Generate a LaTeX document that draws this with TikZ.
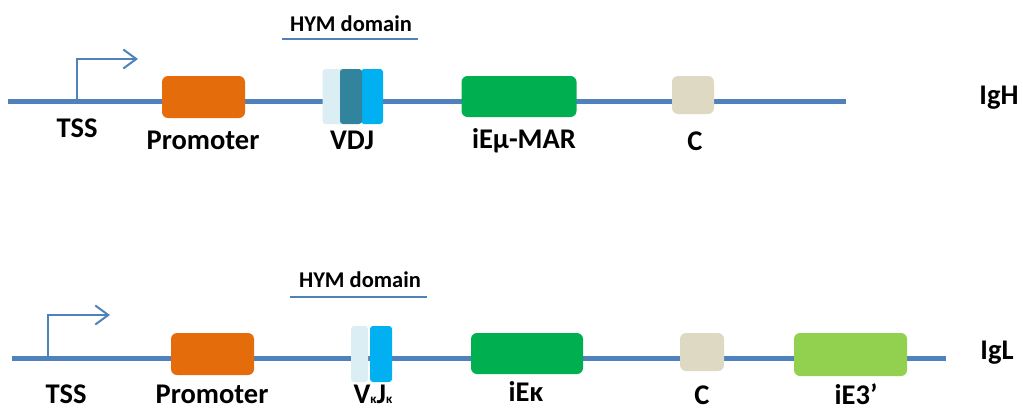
\documentclass[tikz,border=0pt]{standalone}
\usepackage{fontspec}
\setmainfont{Carlito}
\usetikzlibrary{arrows.meta}
\definecolor{dnablue}{HTML}{4F81BD}
\definecolor{promo}{HTML}{E46C0A}
\definecolor{enhgreen}{HTML}{00B050}
\definecolor{litegreen}{HTML}{92D050}
\definecolor{cbox}{HTML}{DDD9C3}
\definecolor{vlight}{HTML}{DAEEF3}
\definecolor{vteal}{HTML}{31849B}
\definecolor{vblue}{HTML}{00B0F0}
\newcommand\kapsub{{\fontsize{13}{14}\selectfont κ}}
\begin{document}
\begin{tikzpicture}[x=1pt,y=-1pt,
  dna/.style={draw=dnablue,line width=5pt},
  tss/.style={draw=dnablue,line width=2pt,-{Straight Barb[length=13pt,width=19pt,line width=2pt]}},
  elem/.style={rounded corners=6pt,inner sep=0,draw=none},
  lbl/.style={font=\fontsize{28.5}{32}\selectfont\bfseries,inner sep=0,anchor=base},
  hym/.style={font=\fontsize{22.5}{26}\selectfont\bfseries,inner sep=0,anchor=base},
  uline/.style={draw=dnablue,line width=2pt}]
\useasboundingbox (0,0) rectangle (1023,410);

% ---------- IgH ----------
\coordinate (hL) at (8,101);
\coordinate (hR) at (846,101);
\draw[dna] (hL) -- (hR);
\coordinate (hT) at (77,101);
\coordinate (hA) at (138,59);
\draw[tss] (hT) |- (hA);

\node[elem,fill=promo,minimum width=83pt,minimum height=42pt] (hP) at (203.5,97) {};
\node[elem,fill=vlight,minimum width=21pt,minimum height=55pt,rounded corners=3pt] (hV) at (333,96.5) {};
\node[elem,fill=vblue,minimum width=22pt,minimum height=55pt,rounded corners=3pt] (hJ) at (372,96.5) {};
\node[elem,fill=vteal,minimum width=22pt,minimum height=55pt,rounded corners=3pt] (hD) at (351,96.5) {};
\node[elem,fill=enhgreen,minimum width=115pt,minimum height=41pt] (hE) at (519,96.5) {};
\node[elem,fill=cbox,minimum width=42pt,minimum height=38pt] (hC) at (693,95) {};

\node[hym] (hH) at (351,31) {HYM domain};
\coordinate (hU1) at (282,39);
\coordinate (hU2) at (418,39);
\draw[uline] (hU1) -- (hU2);

\node[lbl] (hTl) at (77,137) {TSS};
\node[lbl] (hPl) at (203,149) {Promoter};
\node[lbl] (hVl) at (352,149) {VDJ};
\node[lbl] (hEl) at (524,148) {iEμ-MAR};
\node[lbl] (hCl) at (695,150) {C};
\node[lbl] (hName) at (999,104) {IgH};

% ---------- IgL ----------
\coordinate (lL) at (12,358);
\coordinate (lR) at (946,358);
\draw[dna] (lL) -- (lR);
\coordinate (lT) at (48,358);
\coordinate (lA) at (110,315);
\draw[tss] (lT) |- (lA);

\node[elem,fill=promo,minimum width=83pt,minimum height=42pt] (lP) at (212.5,354) {};
\node[elem,fill=vlight,minimum width=17pt,minimum height=56pt,rounded corners=3pt] (lV) at (359.5,354) {};
\node[elem,fill=vblue,minimum width=22pt,minimum height=56pt,rounded corners=3pt] (lJ) at (381,354) {};
\node[elem,fill=enhgreen,minimum width=112pt,minimum height=41pt] (lE) at (527,353.5) {};
\node[elem,fill=cbox,minimum width=44pt,minimum height=38pt] (lC) at (702,352) {};
\node[elem,fill=litegreen,minimum width=113pt,minimum height=43pt] (l3) at (850.5,354.5) {};

\node[hym] (lH) at (360,287) {HYM domain};
\coordinate (lU1) at (290,297);
\coordinate (lU2) at (427,297);
\draw[uline] (lU1) -- (lU2);

\node[lbl] (lTl) at (66,403) {TSS};
\node[lbl] (lPl) at (212,403) {Promoter};
\node[lbl] (lVl) at (373,403) {V\kapsub J\kapsub};
\node[lbl] (lEl) at (526,401) {iEκ};
\node[lbl] (lCl) at (702,404) {C};
\node[lbl] (l3l) at (856,404) {iE3’};
\node[lbl] (lName) at (997,359) {IgL};
\end{tikzpicture}
\end{document}
